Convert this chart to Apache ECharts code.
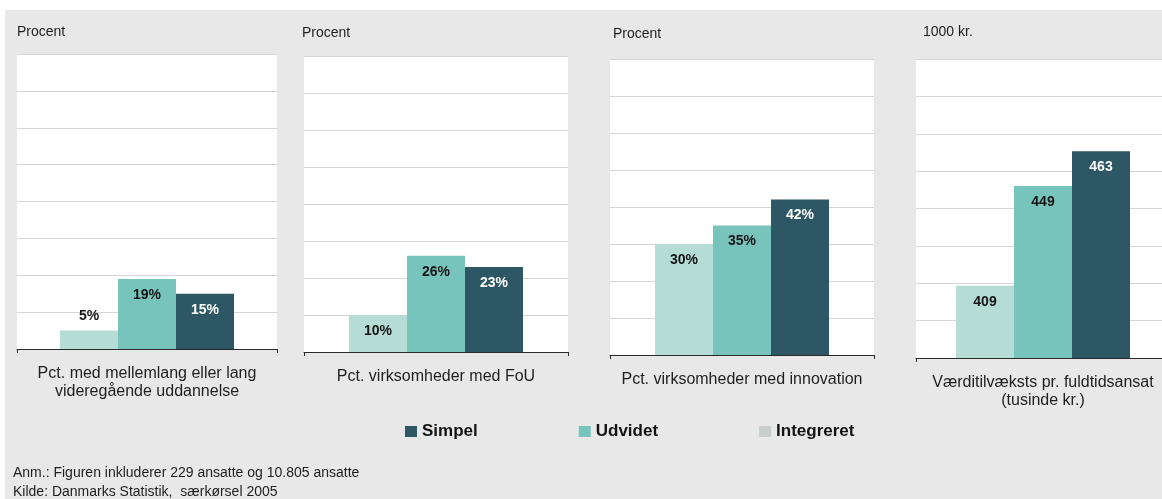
<!DOCTYPE html>
<html>
<head>
<meta charset="utf-8">
<script src="https://cdn.jsdelivr.net/npm/echarts@6/dist/echarts.min.js"></script>
<style>
  html, body { margin: 0; padding: 0; background: #fff; }
  #bg { position: absolute; left: 5px; top: 10px; width: 1157px; height: 489px; background: #e8e8e8; }
  #chart { position: absolute; left: 0; top: 0; width: 1162px; height: 499px; }
</style>
</head>
<body>
<div id="bg"></div>
<div id="chart"></div>
<script>
// data
const categories = [
  'Pct. med mellemlang eller lang\nvideregående uddannelse',
  'Pct. virksomheder med FoU',
  'Pct. virksomheder med innovation',
  'Værditilvæksts pr. fuldtidsansat\n(tusinde kr.)'
];
const units = ['Procent', 'Procent', 'Procent', '1000 kr.'];
const integreret = [5, 10, 30, 409];
const udvidet = [19, 26, 35, 449];
const simpel = [15, 23, 42, 463];
const axisMin = [0, 0, 0, 380];
const axisMax = [80, 80, 80, 500];
const axisStep = [10, 10, 10, 15];
const notes = [
  'Anm.: Figuren inkluderer 229 ansatte og 10.805 ansatte',
  'Kilde: Danmarks Statistik,  særkørsel 2005'
];

// layout
const panels = [
  { left: 17, top: 54, width: 260, height: 295, unitX: 17, unitY: 31 },
  { left: 304, top: 56, width: 264, height: 296, unitX: 302, unitY: 32 },
  { left: 610, top: 59, width: 264, height: 296, unitX: 613, unitY: 33 },
  { left: 916, top: 59, width: 254, height: 299, unitX: 923, unitY: 31 }
];
const FONT = '"Liberation Sans", Arial, sans-serif';
const colors = { Simpel: '#2d5764', Udvidet: '#77c4bd', Integreret: '#b5dcd5' };
const labelColors = { Simpel: '#ffffff', Udvidet: '#141414', Integreret: '#141414' };

const chart = echarts.init(document.getElementById('chart'));

const grid = [], xAxis = [], yAxis = [], series = [], graphic = [];

panels.forEach((p, i) => {
  grid.push({
    left: p.left, top: p.top, width: p.width, height: p.height,
    show: true, backgroundColor: '#ffffff', borderWidth: 0,
    containLabel: false, outerBoundsMode: 'none'
  });
  xAxis.push({
    type: 'category', gridIndex: i, data: [categories[i]], z: 5,
    axisLine: { show: true, lineStyle: { color: '#2a2a2a', width: 1 } },
    axisTick: { show: true, length: 4, lineStyle: { color: '#2a2a2a' } },
    axisLabel: { color: '#1e1e1e', fontSize: 16, lineHeight: 18, margin: 16, fontFamily: FONT, interval: 0 },
    splitLine: { show: false }
  });
  // data axis
  yAxis.push({
    type: 'value', gridIndex: i, min: axisMin[i], max: axisMax[i], show: false, splitLine: { show: false }
  });
  // gridline axis
  yAxis.push({
    type: 'value', gridIndex: i, min: 0, max: axisMax[i] - axisMin[i], interval: axisStep[i],
    position: 'left',
    axisLine: { show: false }, axisTick: { show: false }, axisLabel: { show: false },
    splitLine: { show: true, lineStyle: { color: '#d6d6d6', width: 1 } }
  });
  const fmt = i < 3 ? (v) => v + '%' : (v) => String(v);
  [['Integreret', integreret], ['Udvidet', udvidet], ['Simpel', simpel]].forEach(([name, arr]) => {
    const v = arr[i];
    const small = (v - axisMin[i]) / (axisMax[i] - axisMin[i]) < 0.1;
    series.push({
      name: name, type: 'bar', xAxisIndex: i, yAxisIndex: 2 * i,
      barWidth: 58, barGap: '0%',
      itemStyle: { color: colors[name] },
      label: {
        show: true, position: small ? 'top' : 'insideTop', distance: small ? 7 : 9,
        color: labelColors[name], fontSize: 14, fontWeight: 'bold', fontFamily: FONT,
        formatter: (d) => fmt(d.value)
      },
      emphasis: { disabled: true },
      data: [v]
    });
  });
  graphic.push({
    type: 'text', left: p.unitX, top: p.unitY - 6,
    style: { text: units[i], fill: '#1e1e1e', font: '14px ' + FONT }
  });
});

notes.forEach((t, k) => {
  graphic.push({
    type: 'text', left: 13, top: 466 + k * 19,
    style: { text: t, fill: '#1e1e1e', font: '14px ' + FONT }
  });
});

chart.setOption({
  animation: false,
  grid: grid,
  xAxis: xAxis,
  yAxis: yAxis,
  legend: {
    left: 405, top: 423, padding: 0,
    itemWidth: 12, itemHeight: 11, itemGap: 101,
    icon: 'rect',
    textStyle: { color: '#141414', fontSize: 17, fontWeight: 'bold', fontFamily: FONT },
    data: [
      { name: 'Simpel', itemStyle: { color: '#2d5764' } },
      { name: 'Udvidet', itemStyle: { color: '#77c4bd' } },
      { name: 'Integreret', itemStyle: { color: '#c6cfce' } }
    ]
  },
  graphic: graphic,
  series: series
});
</script>
</body>
</html>
